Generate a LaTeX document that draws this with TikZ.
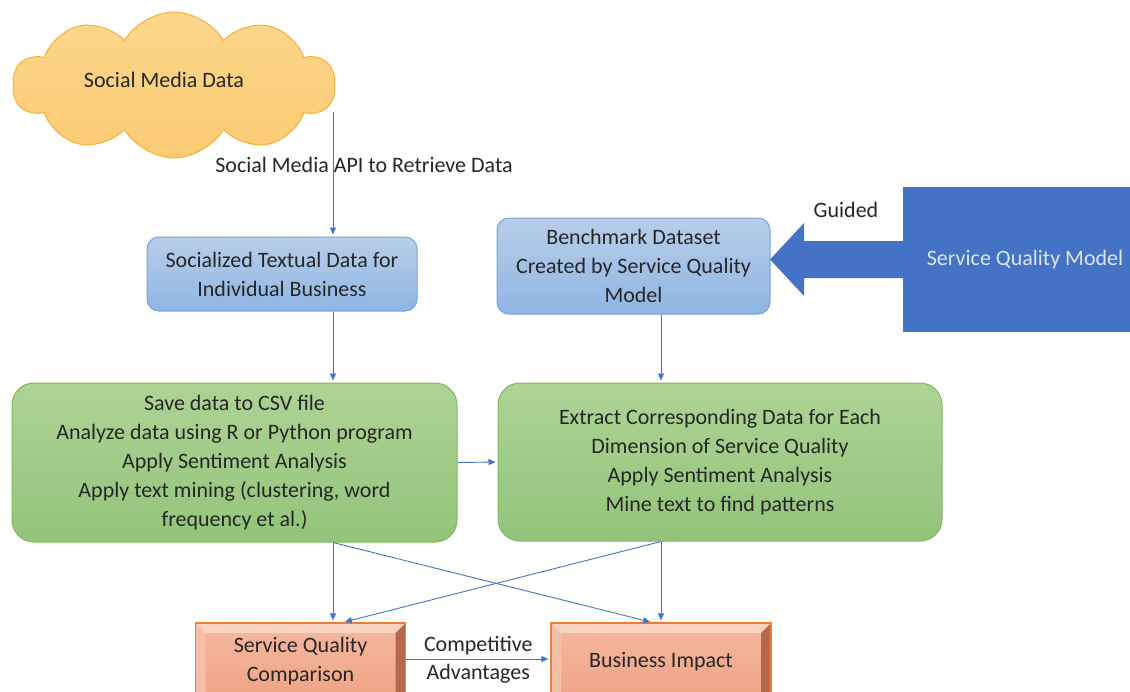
\documentclass[tikz,border=0pt]{standalone}
\usepackage{fontspec}
\setmainfont{Carlito}
\usetikzlibrary{shapes.symbols,arrows.meta,calc}

\definecolor{inkgray}{HTML}{262626}
\definecolor{flowblue}{HTML}{4472C4}
\definecolor{cloudfill}{HTML}{FDD68C}
\definecolor{cloudfillb}{HTML}{FBCB72}
\definecolor{cloudline}{HTML}{F2B33A}
\definecolor{blueTop}{HTML}{B8CEEA}
\definecolor{blueBot}{HTML}{8FB5E3}
\definecolor{blueLine}{HTML}{74A2DA}
\definecolor{greenTop}{HTML}{AED395}
\definecolor{greenBot}{HTML}{93C47A}
\definecolor{greenLine}{HTML}{7DB95C}
\definecolor{sqmfill}{HTML}{4472C4}
\definecolor{sqmtext}{HTML}{DCE5F4}
\definecolor{bevLine}{HTML}{ED7D31}
\definecolor{faceTop}{HTML}{F4B8A0}
\definecolor{faceBot}{HTML}{F0A282}
\definecolor{bevTop}{HTML}{F9D3C2}
\definecolor{bevLeft}{HTML}{F5BFA8}
\definecolor{bevRight}{HTML}{B4694C}
\definecolor{bevBot}{HTML}{C67B5C}

\tikzset{
  txt/.style={font=\fontsize{22}{29}\selectfont, text=inkgray, align=center, inner sep=0pt},
  flow/.style={draw=flowblue, line width=0.9pt, -{Triangle[length=7pt,width=6pt]}, shorten >=2pt},
  bluebox/.style={txt, rectangle, rounded corners=12pt, draw=blueLine, line width=1pt,
    top color=blueTop, bottom color=blueBot},
  greenbox/.style={txt, rectangle, rounded corners=22pt, draw=greenLine, line width=1pt,
    top color=greenTop, bottom color=greenBot},
  cloudnode/.style={txt, cloud, cloud puffs=10, cloud puff arc=120, aspect=2.2,
    draw=cloudline, line width=1pt, top color=cloudfill, bottom color=cloudfillb},
  sqmbox/.style={txt, rectangle, fill=sqmfill, text=sqmtext},
  % bevelled box; the extra text depth lifts the label above the centre
  bevelbox/.style={txt, rectangle, draw=bevLine, line width=1.3pt, text depth=9pt,
    top color=faceTop, bottom color=faceBot,
    path picture={
      \fill[bevTop] (path picture bounding box.north west) -- (path picture bounding box.north east)
        -- ([shift={(-10pt,-10pt)}]path picture bounding box.north east)
        -- ([shift={(10pt,-10pt)}]path picture bounding box.north west) -- cycle;
      \fill[bevLeft] (path picture bounding box.north west)
        -- ([shift={(10pt,-10pt)}]path picture bounding box.north west)
        -- ([shift={(10pt,10pt)}]path picture bounding box.south west)
        -- (path picture bounding box.south west) -- cycle;
      \fill[bevRight] (path picture bounding box.north east)
        -- ([shift={(-10pt,-10pt)}]path picture bounding box.north east)
        -- ([shift={(-10pt,10pt)}]path picture bounding box.south east)
        -- (path picture bounding box.south east) -- cycle;
      \fill[bevBot] (path picture bounding box.south west)
        -- ([shift={(10pt,10pt)}]path picture bounding box.south west)
        -- ([shift={(-10pt,10pt)}]path picture bounding box.south east)
        -- (path picture bounding box.south east) -- cycle;
    }},
}

\begin{document}
\begin{tikzpicture}[x=1pt,y=-1pt]
\useasboundingbox (0,0) rectangle (1130,691);
\clip (0,0) rectangle (1130,691);

% columns used by the vertical connectors
\coordinate (colA) at (333,0);
\coordinate (colB) at (661,0);

% source of the data
\node[cloudnode, minimum width=322pt, minimum height=146pt] (cloud) at (174,85) {};
\node[txt] (cloudtxt) at (164,80) {Social Media Data};

% model that guides the benchmark
\fill[sqmfill] (903,241) -- (804,241) -- (804,223) -- (770,259.5) -- (804,296) -- (804,278) -- (903,278) -- cycle;
\node[sqmbox, minimum width=244pt, minimum height=145pt] (sqm) at (1025,259.5) {Service Quality Model};
\node[txt] (guided) at (846,210) {Guided};

% intermediate data boxes
\node[bluebox, minimum width=270pt, minimum height=74pt] (soc) at (282,274) {Socialized Textual Data for\\Individual Business};
\node[bluebox, minimum width=273pt, minimum height=96pt] (bench) at (633.5,266) {Benchmark Dataset\\Created by Service Quality\\Model};

% analysis steps
\node[greenbox, minimum width=445pt, minimum height=159pt] (g1) at (234.5,462.5)
  {Save data to CSV file\\Analyze data using R or Python program\\Apply Sentiment Analysis\\Apply text mining (clustering, word\\frequency et al.)};
\node[greenbox, minimum width=444pt, minimum height=158pt] (g2) at (720,462)
  {Extract Corresponding Data for Each\\Dimension of Service Quality\\Apply Sentiment Analysis\\Mine text to find patterns};

% outcomes (they run on past the lower edge)
\node[bevelbox, minimum width=210pt, minimum height=82pt] (sqc) at (300.5,664) {Service Quality\\Comparison};
\node[bevelbox, minimum width=220pt, minimum height=82pt] (bi) at (661,664) {Business Impact};

% connectors
\coordinate (apitop) at (333,112);
\draw[flow] (apitop) -- (apitop |- soc.north);
\node[txt] (apilbl) at (364,165) {Social Media API to Retrieve Data};

\draw[flow] (soc.south -| colA) -- (g1.north -| colA);
\draw[flow] (bench.south -| colB) -- (g2.north -| colB);
\draw[flow] (g1.east) -- (g2.west);

\coordinate (biin) at ($(bi.north -| colB)+(-9,0)$);
\coordinate (sqcin) at ($(sqc.north -| colA)+(10,0)$);
\draw[flow] (g1.south -| colA) -- (sqc.north -| colA);
\draw[flow] (g1.south -| colA) -- (biin);
\draw[flow] (g2.south -| colB) -- (bi.north -| colB);
\draw[flow] (g2.south -| colB) -- (sqcin);

\draw[flow] ([yshift=5pt]sqc.east) -- ([yshift=5pt]bi.west)
  node[txt, midway, above=4pt] (comp) {Competitive}
  node[txt, midway, below=5pt] (adv) {Advantages};
\end{tikzpicture}
\end{document}
